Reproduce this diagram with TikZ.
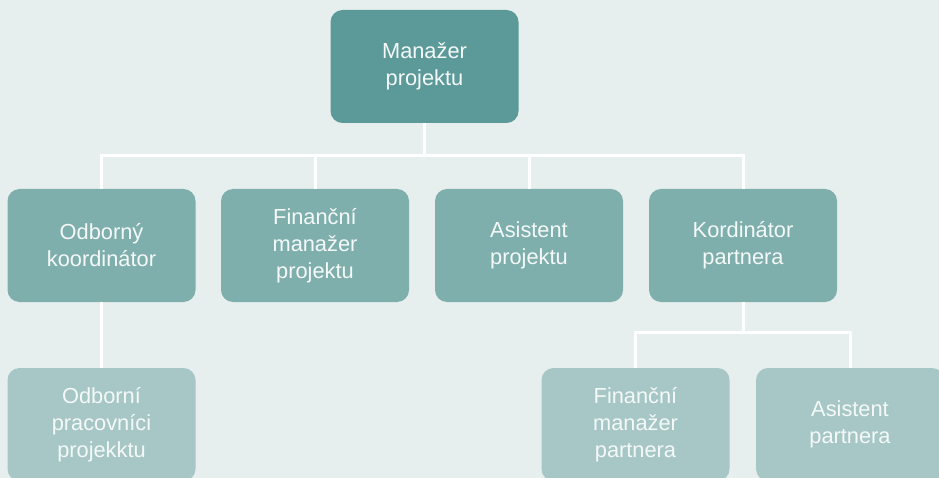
\documentclass[tikz,border=0pt]{standalone}
\usepackage{fontspec}
\setmainfont{Liberation Sans}
\definecolor{bgcol}{HTML}{E6EFEE}
\definecolor{lvlone}{HTML}{5B9A98}
\definecolor{lvltwo}{HTML}{7FAFAD}
\definecolor{lvlthree}{HTML}{A6C7C6}
\definecolor{labelcol}{HTML}{F4F9F8}
\begin{document}
\begin{tikzpicture}[x=1pt,y=-1pt,
  box/.style={rounded corners=12pt, minimum width=188pt, minimum height=113pt,
    inner sep=0pt, align=center, text=labelcol,
    font=\fontsize{21.8}{27}\selectfont},
  topbox/.style={box, fill=lvlone},
  midbox/.style={box, fill=lvltwo},
  lowbox/.style={box, fill=lvlthree},
  link/.style={draw=white, line width=3pt}]
\useasboundingbox (0,0) rectangle (939,478);
\clip (0,0) rectangle (939,478);
\fill[bgcol] (0,0) rectangle (939,478);

% top level
\node[topbox] (pm) at (424.5,66.5) {Manažer\\projektu};

% second level
\node[midbox] (ok) at (101.5,245.5) {Odborný\\koordinátor};
\node[midbox] (fm) at (315,245.5) {Finanční\\manažer\\projektu};
\node[midbox] (ap) at (529,245.5) {Asistent\\projektu};
\node[midbox] (kp) at (743,245.5) {Kordinátor\\partnera};

% third level
\node[lowbox] (op) at (101.5,424.5) {Odborní\\pracovníci\\projekktu};
\node[lowbox] (fp) at (635.5,424.5) {Finanční\\manažer\\partnera};
\node[lowbox] (as) at (850,424.5) {Asistent\\partnera};

% connectors under the project manager
\path (pm.south) ++(0,32) coordinate (busA);
\draw[link] (pm.south) -- (busA);
\draw[link] (ok.north) |- (busA) -| (kp.north);
\draw[link] (fm.north) -- (fm.north |- busA);
\draw[link] (ap.north) -- (ap.north |- busA);

% expert coordinator to expert staff
\draw[link] (ok.south) -- (op.north);

% partner coordinator to partner staff
\path (kp.south) ++(0,30) coordinate (busB);
\draw[link] (kp.south) -- (busB);
\draw[link] (fp.north) |- (busB) -| (as.north);
\end{tikzpicture}
\end{document}
